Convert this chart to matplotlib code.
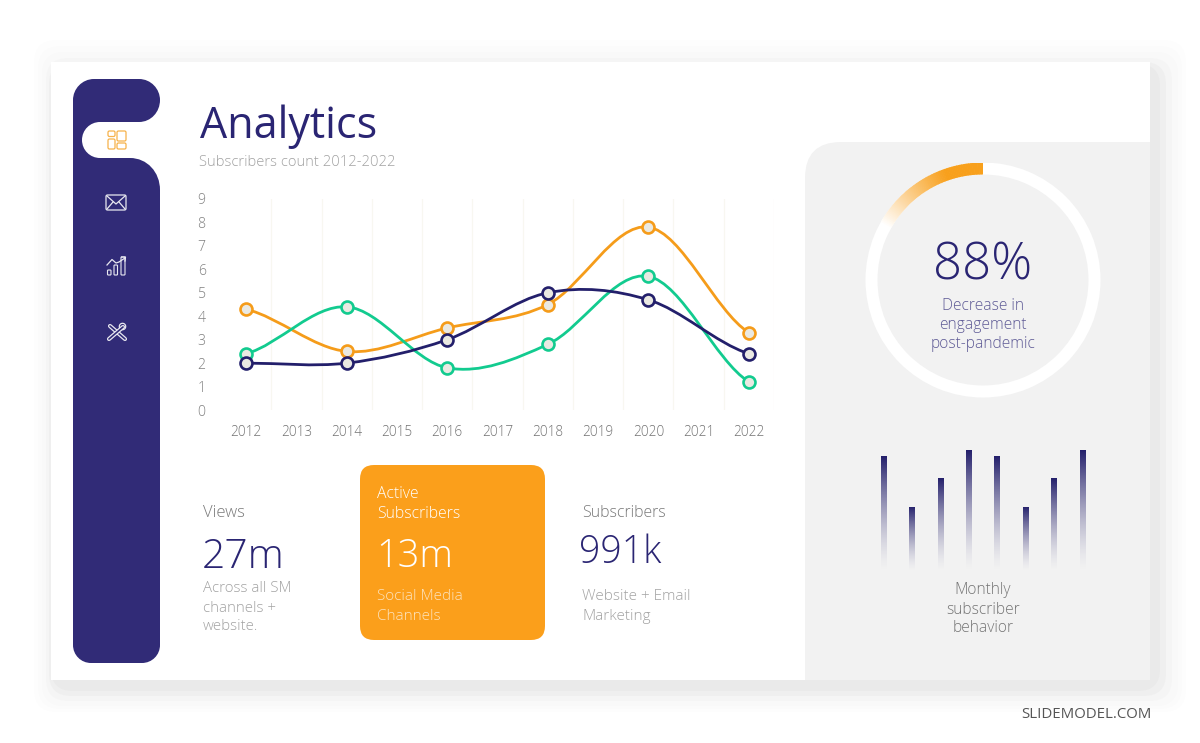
import numpy as np
import matplotlib
matplotlib.use('Agg')
import matplotlib.pyplot as plt
from matplotlib.patches import FancyBboxPatch, PathPatch, Rectangle, Wedge, Circle
from matplotlib.path import Path
from matplotlib.colors import to_rgb

W, H = 1200, 743
NAVY = '#312b77'
LINE_NAVY = '#231f6b'
ORANGE = '#f59c1a'
GREEN = '#12cb8f'
TITLE = '#2a2573'
GREY = '#a2a2a2'
plt.rcParams['font.family'] = ['Open Sans', 'DejaVu Sans']

# chart data
years = ['2012', '2013', '2014', '2015', '2016', '2017', '2018', '2019', '2020', '2021', '2022']
point_idx = [0, 2, 4, 6, 8, 10]
orange_vals = [4.3, 2.5, 3.5, 4.5, 7.8, 3.3]
green_vals = [2.4, 4.4, 1.8, 2.8, 5.7, 1.2]
navy_vals = [2.0, 2.0, 3.0, 5.0, 4.7, 2.4]
y_ticks = [0, 1, 2, 3, 4, 5, 6, 7, 8, 9]

monthly_vals = [114, 64, 92, 120, 114, 64, 92, 120]
ring_share = 60 / 360


def px_axes(x0, y0, x1, y1, **kw):
    # axes placed by pixel box, y measured from the top of the image
    return fig.add_axes([x0 / W, 1 - y1 / H, (x1 - x0) / W, (y1 - y0) / H], **kw)


def smooth_path(xs, ys):
    # cardinal spline through the points, as bezier segments
    xs = np.array(xs, dtype=float)
    ys = np.array(ys, dtype=float)
    m = np.zeros(len(ys))
    m[1:-1] = (ys[2:] - ys[:-2]) / 2
    m[0] = (ys[1] - ys[0]) * 0.6
    m[-1] = (ys[-1] - ys[-2]) * 0.6
    verts = [(xs[0], ys[0])]
    codes = [Path.MOVETO]
    for i in range(len(xs) - 1):
        dx = xs[i + 1] - xs[i]
        verts += [(xs[i] + dx / 3, ys[i] + m[i] / 3),
                  (xs[i + 1] - dx / 3, ys[i + 1] - m[i + 1] / 3),
                  (xs[i + 1], ys[i + 1])]
        codes += [Path.CURVE4] * 3
    return Path(verts, codes)


fig = plt.figure(figsize=(W / 100, H / 100), dpi=100, facecolor='white')

# page layer in pixel coordinates
bg = px_axes(0, 0, W, H)
bg.set_xlim(0, W)
bg.set_ylim(H, 0)
bg.axis('off')

# soft banded shadow
for (x0, y0, x1, y1, a) in [(34, 40, 1186, 712, 0.007), (38, 46, 1182, 709, 0.009),
                            (42, 52, 1178, 706, 0.012), (46, 58, 1172, 701, 0.018),
                            (49, 62, 1166, 696, 0.03), (51, 64, 1160, 691, 0.03)]:
    bg.add_patch(FancyBboxPatch((x0 + 20, y0 + 20), x1 - x0 - 40, y1 - y0 - 40,
                                boxstyle='round,pad=20,rounding_size=22',
                                fc='#555555', ec='none', alpha=a))
bg.add_patch(Rectangle((51, 62), 1099, 618, fc='white', ec='none'))

# grey right panel
r = 36
panel = Path([(805, 680), (805, 142 + r), (805, 142), (805 + r, 142), (1150, 142), (1150, 680), (805, 680)],
             [Path.MOVETO, Path.LINETO, Path.CURVE3, Path.CURVE3, Path.LINETO, Path.LINETO, Path.CLOSEPOLY])
bg.add_patch(PathPatch(panel, fc='#f2f2f2', ec='none'))

# sidebar with tab cut out
side_v = [(73, 100), (73, 89), (82, 79), (94, 79), (139, 79),
          (151, 79), (160, 89), (160, 100), (160, 112), (151, 122), (139, 122),
          (100, 122), (90, 122), (82, 130), (82, 140), (82, 150), (90, 158), (100, 158),
          (130, 158), (147, 158), (160, 172), (160, 190),
          (160, 645), (160, 655), (152, 663), (142, 663),
          (91, 663), (81, 663), (73, 655), (73, 645), (73, 100)]
side_c = [Path.MOVETO, Path.CURVE4, Path.CURVE4, Path.CURVE4, Path.LINETO,
          Path.CURVE4, Path.CURVE4, Path.CURVE4, Path.CURVE4, Path.CURVE4, Path.CURVE4,
          Path.LINETO, Path.CURVE4, Path.CURVE4, Path.CURVE4, Path.CURVE4, Path.CURVE4, Path.CURVE4,
          Path.LINETO, Path.CURVE4, Path.CURVE4, Path.CURVE4,
          Path.LINETO, Path.CURVE4, Path.CURVE4, Path.CURVE4,
          Path.LINETO, Path.CURVE4, Path.CURVE4, Path.CURVE4, Path.CLOSEPOLY]
bg.add_patch(PathPatch(Path(side_v, side_c), fc=NAVY, ec='none'))


def rbox(x, y, w, h, col, lw=0.9, rad=1.5):
    bg.add_patch(FancyBboxPatch((x + rad, y + rad), w - 2 * rad, h - 2 * rad,
                                boxstyle='round,pad=%s,rounding_size=%s' % (rad, rad),
                                fc='none', ec=col, lw=lw))


# sidebar icons
ic = '#f6b24a'
rbox(108, 131, 7, 5.5, ic)
rbox(108, 139, 7, 10, ic)
rbox(117, 131, 9, 10, ic)
rbox(117, 143, 9, 6, ic)

wh = '#e8e8f0'
rbox(106, 195, 20, 15, wh)
bg.plot([107, 116, 125], [196, 204, 196], color=wh, lw=0.9)
bg.plot([107, 113], [209, 202], color=wh, lw=0.9)
bg.plot([125, 119], [209, 202], color=wh, lw=0.9)

rbox(107.5, 270, 3.5, 5, wh, lw=0.8, rad=0.8)
rbox(114, 265, 3.5, 10, wh, lw=0.8, rad=0.8)
rbox(121, 257, 4, 18, wh, lw=0.8, rad=0.8)
bg.plot([107, 112, 116, 119, 125], [265, 259.5, 263, 262, 258], color=wh, lw=0.9)
bg.plot([121.5, 125.5, 125], [257, 257, 261], color=wh, lw=0.9)

bg.plot([110, 125], [326, 339], color=wh, lw=3.0, solid_capstyle='round')
bg.plot([110, 125], [326, 339], color=NAVY, lw=1.2, solid_capstyle='round')
bg.plot([123, 109], [327, 339], color=wh, lw=3.0, solid_capstyle='round')
bg.plot([123, 109], [327, 339], color=NAVY, lw=1.2, solid_capstyle='round')
bg.add_patch(Circle((122.5, 326.5), 3.2, fc=NAVY, ec=wh, lw=0.9))

# orange card
bg.add_patch(FancyBboxPatch((374, 479), 157, 147, boxstyle='round,pad=14,rounding_size=14',
                            fc='#fb9f1b', ec='none'))


def label(x, y, s, size, color, weight='light', ha='left'):
    bg.text(x, y, s, fontsize=size, color=color, fontweight=weight, ha=ha, va='center')


label(200, 127, 'Analytics', 31, TITLE, weight='normal')
label(199, 162.5, 'Subscribers count 2012-2022', 10.6, GREY)

label(203, 513, 'Views', 12, '#787878')
label(202, 557, '27m', 29.4, TITLE)
label(203, 588, 'Across all SM', 10.8, GREY)
label(203, 608, 'channels +', 10.8, GREY)
label(203, 627, 'website.', 10.8, GREY)

label(377, 494, 'Active', 11.3, 'white')
label(377, 514, 'Subscribers', 11.3, 'white')
label(376, 557, '13m', 27.4, 'white')
label(377, 596, 'Social Media', 11, '#fde3bd')
label(377, 616, 'Channels', 11, '#fde3bd')

label(582, 513, 'Subscribers', 11.4, '#787878')
label(579, 553, '991k', 27, TITLE)
label(582, 596, 'Website + Email', 11, GREY)
label(582, 616, 'Marketing', 11, GREY)

label(983, 266, '88%', 36.6, TITLE, ha='center')
sub = '#5d5995'
label(983, 306, 'Decrease in', 11.2, sub, ha='center')
label(983, 325, 'engagement', 11.2, sub, ha='center')
label(983, 344, 'post-pandemic', 11.2, sub, ha='center')

label(983, 590.5, 'Monthly', 11.2, '#747474', ha='center')
label(983, 609.5, 'subscriber', 11.2, '#747474', ha='center')
label(983, 628.5, 'behavior', 11.2, '#747474', ha='center')

label(1152, 714, 'SLIDEMODEL.COM', 10.8, '#555555', weight='normal', ha='right')

# line chart
ax = px_axes(221, 199, 774, 410)
ax.patch.set_alpha(0)
ax.set_xlim(-0.5, 10.5)
ax.set_ylim(0, 9)
for s in ax.spines.values():
    s.set_visible(False)
ax.set_xticks(range(len(years)))
ax.set_xticklabels(years)
ax.set_xticks(np.arange(0.5, 11, 1), minor=True)
ax.set_yticks(y_ticks)
ax.tick_params(which='both', length=0)
ax.tick_params(axis='x', pad=11, labelsize=9.8, labelcolor='#737373')
ax.tick_params(axis='y', pad=11, labelsize=10.2, labelcolor='#808080')
for t in ax.get_xticklabels() + ax.get_yticklabels():
    t.set_fontweight('light')
ax.grid(which='minor', axis='x', color='#f8f7f1', lw=0.9)
ax.set_axisbelow(True)

for vals, col in [(orange_vals, ORANGE), (green_vals, GREEN), (navy_vals, LINE_NAVY)]:
    ax.add_patch(PathPatch(smooth_path(point_idx, vals), fc='none', ec=col, lw=2.0, capstyle='round'))
    ax.plot(point_idx, vals, ls='none', marker='o', ms=8.6, mfc='#eae9e2', mec=col, mew=1.9, clip_on=False)

# progress ring
cx, cy, ro = 983, 280, 117.5
ring = px_axes(cx - ro, cy - ro, cx + ro, cy + ro)
ring.set_xlim(-1, 1)
ring.set_ylim(-1, 1)
ring.axis('off')
thick = 12 / ro
ring.add_patch(Wedge((0, 0), 1, 0, 360, width=thick, fc='white', ec='none'))
steps = 70
span = ring_share * 360
for i in range(steps):
    f = i / steps
    a = 1 - max(0, (f - 0.3) / 0.7) ** 1.1
    c = np.array(to_rgb('#f8a01c')) * a + np.array([1, 1, 1]) * (1 - a)
    ring.add_patch(Wedge((0, 0), 1, 90 + f * span, 90 + (f + 1.4 / steps) * span,
                         width=thick, fc=c, ec='none', zorder=3 + steps - i))

# monthly bars with fade to the panel colour
bx = px_axes(869.3, 450, 1096.5, 572)
bx.patch.set_alpha(0)
bx.axis('off')
pos = np.arange(len(monthly_vals))
bars = bx.bar(pos, monthly_vals, width=0.19, color='none')
fade = np.zeros((256, 1, 4))
fade[:, 0, :3] = to_rgb(LINE_NAVY)
fade[:, 0, 3] = np.linspace(1, 0, 256) ** 1.5
for b in bars:
    im = bx.imshow(fade, extent=[b.get_x(), b.get_x() + b.get_width(), 0, b.get_height()],
                   aspect='auto', zorder=2)
    im.set_clip_path(b)
bx.set_xlim(-0.5, 7.5)
bx.set_ylim(0, 120)

fig.savefig('out.png', dpi=100)
